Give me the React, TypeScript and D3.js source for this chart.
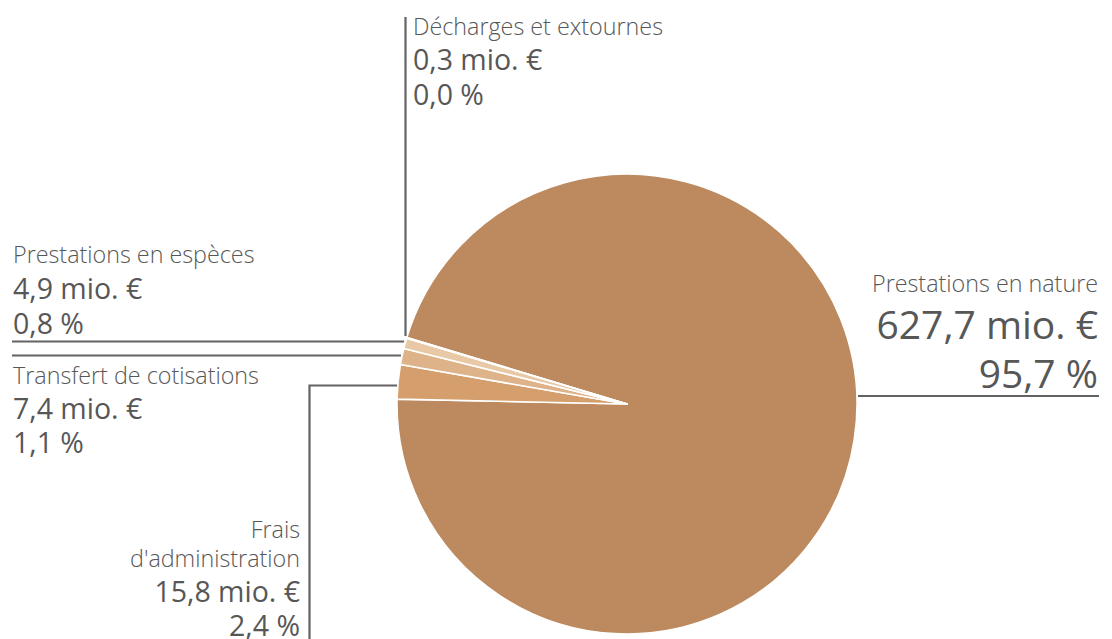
import React from "react";
import * as d3 from "d3";

const categories = [
  "Prestations en nature",
  "Frais d'administration",
  "Transfert de cotisations",
  "Prestations en espèces",
  "Décharges et extournes",
];
const values = [627.7, 15.8, 7.4, 4.9, 0.3];
const amountLabels = ["627,7 mio. €", "15,8 mio. €", "7,4 mio. €", "4,9 mio. €", "0,3 mio. €"];
const percentLabels = ["95,7 %", "2,4 %", "1,1 %", "0,8 %", "0,0 %"];
const colors = ["#BC8A5E", "#D59F6D", "#DFB389", "#E8C8A5", "#F0DCC4"];

const W = 1112;
const H = 639;
const cx = 627;
const cy = 404;
const R = 230;
const textColor = "#575757";
const lineColor = "#636363";
const FONT = "'Open Sans', 'Noto Sans', sans-serif";

const LBL = 23.3;
const AMT = 28.5;
const BIG = 39;

export default function App() {
  const startAngle = (-73.2 * Math.PI) / 180;
  const pie = d3
    .pie<number>()
    .sort(null)
    .startAngle(startAngle)
    .endAngle(startAngle + 2 * Math.PI)
    .value((d) => d);
  const arcs = pie(values);
  const arc = d3.arc<d3.PieArcDatum<number>>().innerRadius(0).outerRadius(R);

  const edge = (a: number, r: number) => [cx + r * Math.sin(a), cy - r * Math.cos(a)];
  const mid = (i: number) => (arcs[i].startAngle + arcs[i].endAngle) / 2;

  const pFrais = edge(mid(1), R);
  const pTrans = edge(mid(2), R);
  const pEsp = edge(mid(3), R);
  const pDech = edge(mid(4), R);

  const lw = 2.2;

  return (
    <svg width={W} height={H} style={{ position: "absolute", left: 0, top: 0 }}>
      <g transform={`translate(${cx},${cy})`}>
        {arcs.map((a, i) => (
          <path key={i} d={arc(a) || ""} fill={colors[i]} stroke="#fff" strokeWidth={1.6} strokeLinejoin="round" />
        ))}
      </g>

      {/* Prestations en nature */}
      <line x1={858} y1={396} x2={1099} y2={396} stroke={lineColor} strokeWidth={lw} />
      <g fill={textColor} fontFamily={FONT} textAnchor="end">
        <text x={1098} y={292} fontSize={LBL} fontWeight={300}>{categories[0]}</text>
        <text x={1098} y={339} fontSize={BIG}>{amountLabels[0]}</text>
        <text x={1098} y={388} fontSize={BIG}>{percentLabels[0]}</text>
      </g>

      {/* Décharges et extournes */}
      <line x1={405.5} y1={17} x2={405.5} y2={Math.min(pDech[1], 336)} stroke={lineColor} strokeWidth={lw} />
      <g fill={textColor} fontFamily={FONT}>
        <text x={413} y={35} fontSize={LBL} fontWeight={300}>{categories[4]}</text>
        <text x={413} y={70} fontSize={AMT}>{amountLabels[4]}</text>
        <text x={413} y={105} fontSize={AMT}>{percentLabels[4]}</text>
      </g>

      {/* Prestations en espèces */}
      <line x1={12} y1={341.5} x2={pEsp[0] - 1} y2={341.5} stroke={lineColor} strokeWidth={lw} />
      <g fill={textColor} fontFamily={FONT}>
        <text x={13} y={263} fontSize={LBL} fontWeight={300}>{categories[3]}</text>
        <text x={13} y={299} fontSize={AMT}>{amountLabels[3]}</text>
        <text x={13} y={334} fontSize={AMT}>{percentLabels[3]}</text>
      </g>

      {/* Transfert de cotisations */}
      <line x1={12} y1={355.5} x2={pTrans[0] - 1} y2={355.5} stroke={lineColor} strokeWidth={lw} />
      <g fill={textColor} fontFamily={FONT}>
        <text x={13} y={384} fontSize={LBL} fontWeight={300}>{categories[2]}</text>
        <text x={13} y={419} fontSize={AMT}>{amountLabels[2]}</text>
        <text x={13} y={453} fontSize={AMT}>{percentLabels[2]}</text>
      </g>

      {/* Frais d'administration */}
      <polyline
        points={`${pFrais[0] - 1},385.5 309.5,385.5 309.5,${H}`}
        fill="none"
        stroke={lineColor}
        strokeWidth={lw}
      />
      <g fill={textColor} fontFamily={FONT} textAnchor="end">
        <text x={300} y={538} fontSize={LBL} fontWeight={300}>Frais</text>
        <text x={300} y={567} fontSize={LBL} fontWeight={300}>d'administration</text>
        <text x={300} y={602} fontSize={AMT}>{amountLabels[1]}</text>
        <text x={300} y={636} fontSize={AMT}>{percentLabels[1]}</text>
      </g>
    </svg>
  );
}
